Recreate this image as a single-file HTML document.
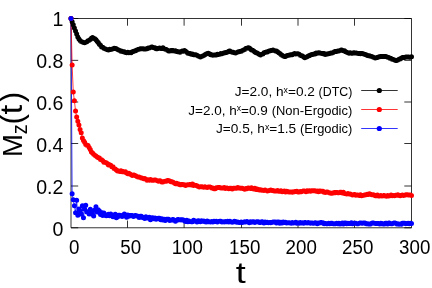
<!DOCTYPE html>
<html><head><meta charset="utf-8"><title>Mz(t)</title><style>html,body{margin:0;padding:0;background:#fff}svg{will-change:transform;transform:translateZ(0)}body{width:432px;height:288px;overflow:hidden}</style></head><body>
<svg width="432" height="288" viewBox="0 0 432 288" style="display:block;font-family:'Liberation Sans',sans-serif">
<rect width="432" height="288" fill="#fff"/>
<g stroke="#000" stroke-width="0.8" fill="none">
<path d="M71.0,18.5H411.5V227.77H71.0Z"/>
<path d="M127.50,227.77v-7.2M127.50,18.5v7.2"/>
<path d="M184.10,227.77v-7.2M184.10,18.5v7.2"/>
<path d="M241.50,227.77v-7.2M241.50,18.5v7.2"/>
<path d="M298.00,227.77v-7.2M298.00,18.5v7.2"/>
<path d="M354.50,227.77v-7.2M354.50,18.5v7.2"/>
<path d="M71.0,227.77h7.2M411.5,227.77h-7.2"/>
<path d="M71.0,186.00h7.2M411.5,186.00h-7.2"/>
<path d="M71.0,143.50h7.2M411.5,143.50h-7.2"/>
<path d="M71.0,102.00h7.2M411.5,102.00h-7.2"/>
<path d="M71.0,60.35h7.2M411.5,60.35h-7.2"/>
<path d="M71.0,18.50h7.2M411.5,18.50h-7.2"/>
</g>
<text transform="translate(63.4,236.00) scale(0.95,1)" font-size="20.6" text-anchor="end" fill="#000">0</text>
<text transform="translate(63.4,193.80) scale(0.95,1)" font-size="20.6" text-anchor="end" fill="#000">0.2</text>
<text transform="translate(63.4,151.80) scale(0.95,1)" font-size="20.6" text-anchor="end" fill="#000">0.4</text>
<text transform="translate(63.4,110.30) scale(0.95,1)" font-size="20.6" text-anchor="end" fill="#000">0.6</text>
<text transform="translate(63.4,67.60) scale(0.95,1)" font-size="20.6" text-anchor="end" fill="#000">0.8</text>
<text transform="translate(63.4,25.90) scale(0.95,1)" font-size="20.6" text-anchor="end" fill="#000">1</text>
<text transform="translate(74.20,254.2) scale(0.91,1)" font-size="20.6" text-anchor="middle" fill="#000">0</text>
<text transform="translate(130.70,254.2) scale(0.91,1)" font-size="20.6" text-anchor="middle" fill="#000">50</text>
<text transform="translate(187.30,254.2) scale(0.91,1)" font-size="20.6" text-anchor="middle" fill="#000">100</text>
<text transform="translate(244.70,254.2) scale(0.91,1)" font-size="20.6" text-anchor="middle" fill="#000">150</text>
<text transform="translate(301.20,254.2) scale(0.91,1)" font-size="20.6" text-anchor="middle" fill="#000">200</text>
<text transform="translate(357.70,254.2) scale(0.91,1)" font-size="20.6" text-anchor="middle" fill="#000">250</text>
<text transform="translate(414.70,254.2) scale(0.91,1)" font-size="20.6" text-anchor="middle" fill="#000">300</text>
<text transform="translate(240.8,283) scale(1.2,1)" font-size="30" text-anchor="middle" fill="#000">t</text>
<g transform="translate(21.5,0) rotate(-90)" fill="#000"><text x="-157" y="0" font-size="27.5">M</text><text transform="translate(-134.2,5.4) scale(0.9,1)" font-size="22">z</text><text x="-124.6" y="0" font-size="31">(</text><text transform="translate(-114.4,0) scale(1.1,1)" font-size="32">t</text><text x="-102.2" y="0" font-size="31">)</text></g>
<path d="M71.00,18.50 L72.14,21.64 L73.27,24.79 L74.41,27.91 L75.54,30.94 L76.67,33.97 L77.81,36.99 L78.94,38.92 L80.08,40.62 L81.22,41.53 L82.35,41.97 L83.48,42.41 L84.62,42.85 L85.75,42.28 L86.89,41.70 L88.03,40.77 L89.16,40.14 L90.30,39.39 L91.43,38.24 L92.56,37.45 L93.70,38.30 L94.84,38.80 L95.97,39.69 L97.11,41.31 L98.24,42.42 L99.38,44.15 L100.51,45.37 L101.64,46.96 L102.78,47.25 L103.91,48.13 L105.05,48.84 L106.19,49.15 L107.32,49.84 L108.45,50.01 L109.59,49.32 L110.72,49.54 L111.86,49.16 L113.00,48.70 L114.13,48.24 L115.27,48.56 L116.40,48.66 L117.53,49.38 L118.67,50.04 L119.81,50.47 L120.94,51.16 L122.08,51.25 L123.21,51.80 L124.34,51.82 L125.48,52.43 L126.62,52.65 L127.75,52.37 L128.88,52.66 L130.02,52.52 L131.16,52.64 L132.29,51.86 L133.43,51.59 L134.56,50.95 L135.69,50.67 L136.83,50.07 L137.97,49.54 L139.10,49.19 L140.24,48.68 L141.37,48.82 L142.50,48.71 L143.64,48.93 L144.78,48.92 L145.91,49.06 L147.05,48.75 L148.18,47.94 L149.31,47.98 L150.45,47.60 L151.58,47.10 L152.72,47.19 L153.86,47.74 L154.99,47.84 L156.12,48.73 L157.26,48.74 L158.39,48.40 L159.53,48.11 L160.67,48.53 L161.80,48.49 L162.94,47.72 L164.07,48.80 L165.20,49.15 L166.34,49.59 L167.47,50.32 L168.61,50.94 L169.75,51.01 L170.88,50.43 L172.01,50.83 L173.15,50.43 L174.28,50.90 L175.42,50.74 L176.56,51.41 L177.69,51.76 L178.82,51.71 L179.96,52.34 L181.09,51.56 L182.23,51.08 L183.37,51.14 L184.50,50.42 L185.63,51.34 L186.77,52.29 L187.91,53.23 L189.04,53.54 L190.18,53.60 L191.31,54.31 L192.44,54.06 L193.58,54.65 L194.72,54.74 L195.85,54.80 L196.99,55.37 L198.12,55.93 L199.25,56.53 L200.39,57.02 L201.53,56.49 L202.66,55.93 L203.79,55.54 L204.93,54.63 L206.06,53.97 L207.20,53.56 L208.34,53.37 L209.47,53.82 L210.60,54.70 L211.74,54.79 L212.88,55.22 L214.01,55.10 L215.15,55.12 L216.28,54.97 L217.41,54.31 L218.55,54.46 L219.69,54.21 L220.82,53.54 L221.96,53.64 L223.09,53.20 L224.22,53.03 L225.36,52.47 L226.50,52.40 L227.63,52.09 L228.76,51.27 L229.90,50.97 L231.03,51.74 L232.17,52.33 L233.31,52.23 L234.44,52.77 L235.57,52.90 L236.71,52.40 L237.84,52.11 L238.98,51.75 L240.12,51.48 L241.25,51.32 L242.38,50.50 L243.52,49.95 L244.66,49.62 L245.79,48.49 L246.93,48.26 L248.06,47.77 L249.19,48.01 L250.33,48.72 L251.47,49.90 L252.60,50.28 L253.74,51.02 L254.87,51.88 L256.00,52.74 L257.14,53.01 L258.27,53.84 L259.41,54.53 L260.54,54.97 L261.68,54.15 L262.81,53.90 L263.95,52.87 L265.09,52.44 L266.22,52.12 L267.36,51.97 L268.49,51.37 L269.62,50.91 L270.76,50.53 L271.89,50.52 L273.03,49.98 L274.16,50.42 L275.30,51.01 L276.44,51.12 L277.57,51.76 L278.71,52.69 L279.84,53.53 L280.98,54.61 L282.11,55.25 L283.25,56.06 L284.38,56.43 L285.51,56.46 L286.65,55.78 L287.78,55.51 L288.92,55.24 L290.06,54.93 L291.19,54.66 L292.32,54.75 L293.46,53.95 L294.60,53.58 L295.73,53.97 L296.87,53.66 L298.00,53.87 L299.13,54.13 L300.27,55.13 L301.40,55.76 L302.54,55.91 L303.68,56.92 L304.81,57.63 L305.94,57.24 L307.08,56.68 L308.22,56.07 L309.35,55.65 L310.49,55.12 L311.62,54.57 L312.75,54.56 L313.89,53.97 L315.02,53.96 L316.16,53.04 L317.29,53.27 L318.43,52.74 L319.56,53.01 L320.70,53.30 L321.84,53.60 L322.97,53.68 L324.11,53.59 L325.24,54.40 L326.38,54.23 L327.51,53.96 L328.64,53.86 L329.78,53.41 L330.92,52.97 L332.05,52.98 L333.19,52.40 L334.32,51.85 L335.45,51.46 L336.59,51.61 L337.73,51.05 L338.86,50.98 L340.00,50.40 L341.13,50.01 L342.26,50.14 L343.40,50.82 L344.54,50.86 L345.67,51.78 L346.81,52.35 L347.94,52.76 L349.07,53.23 L350.21,52.70 L351.35,53.17 L352.48,53.37 L353.62,52.84 L354.75,53.04 L355.88,53.08 L357.02,53.34 L358.15,53.38 L359.29,53.52 L360.43,53.84 L361.56,53.42 L362.69,53.76 L363.83,54.11 L364.96,54.41 L366.10,54.67 L367.24,55.61 L368.37,55.83 L369.50,55.64 L370.64,56.34 L371.77,56.62 L372.91,57.03 L374.05,57.46 L375.18,58.08 L376.31,57.81 L377.45,57.39 L378.58,57.01 L379.72,56.84 L380.86,56.43 L381.99,56.47 L383.12,56.48 L384.26,56.47 L385.39,56.48 L386.53,56.78 L387.67,57.14 L388.80,57.53 L389.94,58.13 L391.07,58.38 L392.20,59.20 L393.34,59.60 L394.48,59.99 L395.61,60.48 L396.75,60.39 L397.88,59.99 L399.01,59.24 L400.15,58.89 L401.29,58.18 L402.42,57.48 L403.56,57.46 L404.69,57.47 L405.82,56.94 L406.96,57.09 L408.10,56.99 L409.23,57.21 L410.37,57.15 L411.50,56.66" fill="none" stroke="#000" stroke-width="0.75" stroke-linejoin="round"/>
<path d="M71.00,18.50 L72.14,193.70 L73.27,199.80 L74.41,205.70 L75.54,212.70 L76.67,200.20 L77.81,215.30 L78.94,209.00 L80.08,211.00 L81.22,214.00 L82.35,205.70 L83.48,217.80 L84.62,209.00 L85.75,205.20 L86.89,212.00 L88.03,211.50 L89.16,214.00 L90.30,209.30 L91.43,212.00 L92.56,214.50 L93.70,216.00 L94.84,210.00 L95.97,206.80 L97.11,212.00 L98.24,209.80 L99.38,211.00 L100.51,214.50 L101.64,212.50 L102.78,215.50 L103.91,213.00 L105.05,215.00 L106.19,215.67 L107.32,214.83 L108.45,214.31 L109.59,215.80 L110.72,214.01 L111.86,215.08 L113.00,216.82 L114.13,215.11 L115.27,214.15 L116.40,217.77 L117.53,216.91 L118.67,215.27 L119.81,215.35 L120.94,216.12 L122.08,216.45 L123.21,214.90 L124.34,214.06 L125.48,214.99 L126.62,217.34 L127.75,214.90 L128.88,216.24 L130.02,215.38 L131.16,215.56 L132.29,215.56 L133.43,216.51 L134.56,215.83 L135.69,215.50 L136.83,215.92 L137.97,216.24 L139.10,217.38 L140.24,216.18 L141.37,216.21 L142.50,217.60 L143.64,217.60 L144.78,218.55 L145.91,216.85 L147.05,217.94 L148.18,218.04 L149.31,217.19 L150.45,219.74 L151.58,217.95 L152.72,217.76 L153.86,218.77 L154.99,218.09 L156.12,219.26 L157.26,218.68 L158.39,218.24 L159.53,218.16 L160.67,219.74 L161.80,218.82 L162.94,219.99 L164.07,219.37 L165.20,220.42 L166.34,219.20 L167.47,219.19 L168.61,219.32 L169.75,220.50 L170.88,220.22 L172.01,219.76 L173.15,219.38 L174.28,220.59 L175.42,221.21 L176.56,220.59 L177.69,219.61 L178.82,219.71 L179.96,219.86 L181.09,220.06 L182.23,219.87 L183.37,219.95 L184.50,221.03 L185.63,221.48 L186.77,220.35 L187.91,221.68 L189.04,220.89 L190.18,221.47 L191.31,221.69 L192.44,221.76 L193.58,220.36 L194.72,220.84 L195.85,221.36 L196.99,221.92 L198.12,220.63 L199.25,220.96 L200.39,221.83 L201.53,220.74 L202.66,221.17 L203.79,221.11 L204.93,221.64 L206.06,222.02 L207.20,220.94 L208.34,221.78 L209.47,221.79 L210.60,221.95 L211.74,221.57 L212.88,222.11 L214.01,221.33 L215.15,221.43 L216.28,221.19 L217.41,221.97 L218.55,221.58 L219.69,221.30 L220.82,221.19 L221.96,221.96 L223.09,221.82 L224.22,221.98 L225.36,221.57 L226.50,221.72 L227.63,221.29 L228.76,222.06 L229.90,221.16 L231.03,221.77 L232.17,222.17 L233.31,222.09 L234.44,221.34 L235.57,221.54 L236.71,222.36 L237.84,222.11 L238.98,222.44 L240.12,222.45 L241.25,221.92 L242.38,222.52 L243.52,222.32 L244.66,221.83 L245.79,221.89 L246.93,221.53 L248.06,221.97 L249.19,222.70 L250.33,221.63 L251.47,222.24 L252.60,221.68 L253.74,221.66 L254.87,222.40 L256.00,221.91 L257.14,221.68 L258.27,221.83 L259.41,222.47 L260.54,222.41 L261.68,221.71 L262.81,222.00 L263.95,222.94 L265.09,222.02 L266.22,222.46 L267.36,222.30 L268.49,222.76 L269.62,222.56 L270.76,222.80 L271.89,222.50 L273.03,222.09 L274.16,222.09 L275.30,221.99 L276.44,222.92 L277.57,222.06 L278.71,221.97 L279.84,223.14 L280.98,222.21 L282.11,223.08 L283.25,222.11 L284.38,222.59 L285.51,222.30 L286.65,223.06 L287.78,222.82 L288.92,222.86 L290.06,223.03 L291.19,223.18 L292.32,222.55 L293.46,222.88 L294.60,222.70 L295.73,222.31 L296.87,223.21 L298.00,222.93 L299.13,223.21 L300.27,222.49 L301.40,222.91 L302.54,222.83 L303.68,223.17 L304.81,222.39 L305.94,222.73 L307.08,222.92 L308.22,222.43 L309.35,223.03 L310.49,223.27 L311.62,222.90 L312.75,223.19 L313.89,223.16 L315.02,222.70 L316.16,222.88 L317.29,223.67 L318.43,222.89 L319.56,223.02 L320.70,222.62 L321.84,222.79 L322.97,222.75 L324.11,223.69 L325.24,223.46 L326.38,223.65 L327.51,223.80 L328.64,223.36 L329.78,223.76 L330.92,223.30 L332.05,223.18 L333.19,223.83 L334.32,223.79 L335.45,223.85 L336.59,223.30 L337.73,223.65 L338.86,223.22 L340.00,223.93 L341.13,223.85 L342.26,223.10 L343.40,223.88 L344.54,222.98 L345.67,222.88 L346.81,223.64 L347.94,223.13 L349.07,223.41 L350.21,223.56 L351.35,222.85 L352.48,223.70 L353.62,223.14 L354.75,223.34 L355.88,223.24 L357.02,223.72 L358.15,223.74 L359.29,223.19 L360.43,222.98 L361.56,223.22 L362.69,223.36 L363.83,222.97 L364.96,223.06 L366.10,223.80 L367.24,223.73 L368.37,224.07 L369.50,224.08 L370.64,223.96 L371.77,223.37 L372.91,223.12 L374.05,223.31 L375.18,223.49 L376.31,223.58 L377.45,223.60 L378.58,223.39 L379.72,223.99 L380.86,223.31 L381.99,223.53 L383.12,224.05 L384.26,223.96 L385.39,223.36 L386.53,223.30 L387.67,223.98 L388.80,223.03 L389.94,223.18 L391.07,223.67 L392.20,223.68 L393.34,223.24 L394.48,223.11 L395.61,223.30 L396.75,223.99 L397.88,223.63 L399.01,224.25 L400.15,224.03 L401.29,224.27 L402.42,223.14 L403.56,223.33 L404.69,223.13 L405.82,223.64 L406.96,223.53 L408.10,223.19 L409.23,223.79 L410.37,223.26 L411.50,223.52" fill="none" stroke="#00f" stroke-width="0.75" stroke-linejoin="round"/>
<path d="M71.00,18.50 L72.14,65.03 L73.27,91.99 L74.41,100.75 L75.54,110.92 L76.67,117.06 L77.81,121.33 L78.94,125.02 L80.08,129.53 L81.22,132.77 L82.35,138.05 L83.48,140.39 L84.62,142.28 L85.75,144.44 L86.89,145.26 L88.03,145.57 L89.16,147.53 L90.30,149.39 L91.43,152.03 L92.56,152.92 L93.70,154.26 L94.84,155.22 L95.97,156.08 L97.11,157.06 L98.24,157.77 L99.38,158.12 L100.51,159.61 L101.64,159.71 L102.78,160.67 L103.91,162.22 L105.05,162.14 L106.19,162.87 L107.32,163.47 L108.45,164.99 L109.59,164.74 L110.72,165.15 L111.86,166.74 L113.00,166.69 L114.13,168.38 L115.27,168.99 L116.40,170.00 L117.53,170.96 L118.67,170.95 L119.81,171.40 L120.94,170.66 L122.08,171.72 L123.21,171.60 L124.34,172.05 L125.48,171.82 L126.62,173.09 L127.75,173.81 L128.88,173.26 L130.02,174.08 L131.16,174.76 L132.29,175.39 L133.43,175.01 L134.56,175.25 L135.69,175.65 L136.83,176.42 L137.97,177.04 L139.10,177.06 L140.24,177.48 L141.37,177.97 L142.50,178.37 L143.64,178.78 L144.78,178.60 L145.91,179.33 L147.05,180.13 L148.18,179.68 L149.31,180.30 L150.45,179.59 L151.58,180.23 L152.72,180.31 L153.86,180.21 L154.99,180.02 L156.12,180.16 L157.26,180.66 L158.39,181.29 L159.53,180.71 L160.67,180.96 L161.80,182.04 L162.94,182.06 L164.07,181.40 L165.20,181.13 L166.34,181.28 L167.47,180.46 L168.61,180.67 L169.75,180.97 L170.88,181.81 L172.01,181.87 L173.15,182.15 L174.28,183.07 L175.42,183.77 L176.56,183.25 L177.69,184.02 L178.82,183.93 L179.96,184.73 L181.09,184.68 L182.23,184.56 L183.37,184.77 L184.50,184.81 L185.63,185.39 L186.77,185.12 L187.91,184.72 L189.04,184.79 L190.18,184.60 L191.31,184.99 L192.44,184.08 L193.58,185.41 L194.72,185.14 L195.85,185.62 L196.99,185.81 L198.12,186.59 L199.25,186.91 L200.39,186.83 L201.53,186.78 L202.66,187.10 L203.79,187.30 L204.93,186.79 L206.06,187.23 L207.20,187.54 L208.34,187.10 L209.47,187.00 L210.60,187.20 L211.74,187.97 L212.88,188.11 L214.01,188.64 L215.15,188.66 L216.28,187.81 L217.41,187.64 L218.55,187.61 L219.69,187.41 L220.82,187.91 L221.96,187.98 L223.09,188.08 L224.22,187.49 L225.36,188.41 L226.50,187.94 L227.63,188.26 L228.76,188.82 L229.90,188.24 L231.03,188.16 L232.17,188.93 L233.31,188.17 L234.44,188.13 L235.57,188.29 L236.71,188.29 L237.84,187.44 L238.98,187.95 L240.12,188.18 L241.25,188.36 L242.38,188.14 L243.52,188.70 L244.66,189.26 L245.79,188.57 L246.93,188.67 L248.06,188.09 L249.19,188.20 L250.33,188.59 L251.47,187.85 L252.60,188.74 L253.74,189.01 L254.87,188.29 L256.00,189.55 L257.14,189.12 L258.27,189.85 L259.41,190.08 L260.54,189.69 L261.68,190.22 L262.81,190.27 L263.95,190.53 L265.09,189.96 L266.22,190.62 L267.36,190.94 L268.49,190.65 L269.62,190.54 L270.76,190.09 L271.89,190.60 L273.03,190.49 L274.16,190.98 L275.30,190.99 L276.44,190.91 L277.57,190.50 L278.71,191.13 L279.84,191.20 L280.98,190.74 L282.11,191.68 L283.25,191.48 L284.38,190.93 L285.51,191.99 L286.65,191.13 L287.78,191.44 L288.92,191.99 L290.06,191.93 L291.19,191.97 L292.32,192.16 L293.46,191.90 L294.60,191.66 L295.73,191.43 L296.87,191.24 L298.00,191.95 L299.13,191.94 L300.27,191.62 L301.40,191.79 L302.54,191.27 L303.68,191.10 L304.81,191.18 L305.94,191.70 L307.08,190.64 L308.22,191.13 L309.35,190.76 L310.49,191.32 L311.62,190.76 L312.75,190.67 L313.89,190.70 L315.02,190.80 L316.16,191.23 L317.29,190.89 L318.43,191.63 L319.56,190.91 L320.70,191.25 L321.84,191.20 L322.97,191.37 L324.11,192.33 L325.24,192.42 L326.38,191.92 L327.51,192.08 L328.64,192.51 L329.78,193.06 L330.92,193.30 L332.05,193.27 L333.19,193.03 L334.32,192.43 L335.45,192.68 L336.59,192.38 L337.73,192.72 L338.86,192.71 L340.00,192.22 L341.13,192.22 L342.26,192.97 L343.40,192.27 L344.54,193.39 L345.67,193.70 L346.81,193.97 L347.94,193.49 L349.07,193.89 L350.21,194.12 L351.35,194.38 L352.48,194.94 L353.62,194.74 L354.75,194.42 L355.88,195.23 L357.02,194.92 L358.15,195.20 L359.29,195.50 L360.43,194.77 L361.56,195.82 L362.69,195.52 L363.83,195.16 L364.96,195.03 L366.10,194.80 L367.24,194.31 L368.37,194.55 L369.50,193.80 L370.64,194.32 L371.77,194.70 L372.91,194.66 L374.05,195.00 L375.18,195.68 L376.31,195.80 L377.45,195.09 L378.58,196.08 L379.72,196.08 L380.86,195.60 L381.99,196.04 L383.12,195.79 L384.26,195.51 L385.39,195.97 L386.53,196.35 L387.67,195.52 L388.80,196.09 L389.94,195.78 L391.07,195.01 L392.20,195.79 L393.34,195.38 L394.48,195.68 L395.61,195.33 L396.75,195.30 L397.88,194.86 L399.01,195.45 L400.15,195.64 L401.29,195.59 L402.42,195.12 L403.56,195.54 L404.69,195.26 L405.82,194.84 L406.96,194.80 L408.10,194.88 L409.23,195.06 L410.37,195.06 L411.50,195.50" fill="none" stroke="#f00" stroke-width="0.75" stroke-linejoin="round"/>
<path d="M71.00,18.50h0M72.14,21.64h0M73.27,24.79h0M74.41,27.91h0M75.54,30.94h0M76.67,33.97h0M77.81,36.99h0M78.94,38.92h0M80.08,40.62h0M81.22,41.53h0M82.35,41.97h0M83.48,42.41h0M84.62,42.85h0M85.75,42.28h0M86.89,41.70h0M88.03,40.77h0M89.16,40.14h0M90.30,39.39h0M91.43,38.24h0M92.56,37.45h0M93.70,38.30h0M94.84,38.80h0M95.97,39.69h0M97.11,41.31h0M98.24,42.42h0M99.38,44.15h0M100.51,45.37h0M101.64,46.96h0M102.78,47.25h0M103.91,48.13h0M105.05,48.84h0M106.19,49.15h0M107.32,49.84h0M108.45,50.01h0M109.59,49.32h0M110.72,49.54h0M111.86,49.16h0M113.00,48.70h0M114.13,48.24h0M115.27,48.56h0M116.40,48.66h0M117.53,49.38h0M118.67,50.04h0M119.81,50.47h0M120.94,51.16h0M122.08,51.25h0M123.21,51.80h0M124.34,51.82h0M125.48,52.43h0M126.62,52.65h0M127.75,52.37h0M128.88,52.66h0M130.02,52.52h0M131.16,52.64h0M132.29,51.86h0M133.43,51.59h0M134.56,50.95h0M135.69,50.67h0M136.83,50.07h0M137.97,49.54h0M139.10,49.19h0M140.24,48.68h0M141.37,48.82h0M142.50,48.71h0M143.64,48.93h0M144.78,48.92h0M145.91,49.06h0M147.05,48.75h0M148.18,47.94h0M149.31,47.98h0M150.45,47.60h0M151.58,47.10h0M152.72,47.19h0M153.86,47.74h0M154.99,47.84h0M156.12,48.73h0M157.26,48.74h0M158.39,48.40h0M159.53,48.11h0M160.67,48.53h0M161.80,48.49h0M162.94,47.72h0M164.07,48.80h0M165.20,49.15h0M166.34,49.59h0M167.47,50.32h0M168.61,50.94h0M169.75,51.01h0M170.88,50.43h0M172.01,50.83h0M173.15,50.43h0M174.28,50.90h0M175.42,50.74h0M176.56,51.41h0M177.69,51.76h0M178.82,51.71h0M179.96,52.34h0M181.09,51.56h0M182.23,51.08h0M183.37,51.14h0M184.50,50.42h0M185.63,51.34h0M186.77,52.29h0M187.91,53.23h0M189.04,53.54h0M190.18,53.60h0M191.31,54.31h0M192.44,54.06h0M193.58,54.65h0M194.72,54.74h0M195.85,54.80h0M196.99,55.37h0M198.12,55.93h0M199.25,56.53h0M200.39,57.02h0M201.53,56.49h0M202.66,55.93h0M203.79,55.54h0M204.93,54.63h0M206.06,53.97h0M207.20,53.56h0M208.34,53.37h0M209.47,53.82h0M210.60,54.70h0M211.74,54.79h0M212.88,55.22h0M214.01,55.10h0M215.15,55.12h0M216.28,54.97h0M217.41,54.31h0M218.55,54.46h0M219.69,54.21h0M220.82,53.54h0M221.96,53.64h0M223.09,53.20h0M224.22,53.03h0M225.36,52.47h0M226.50,52.40h0M227.63,52.09h0M228.76,51.27h0M229.90,50.97h0M231.03,51.74h0M232.17,52.33h0M233.31,52.23h0M234.44,52.77h0M235.57,52.90h0M236.71,52.40h0M237.84,52.11h0M238.98,51.75h0M240.12,51.48h0M241.25,51.32h0M242.38,50.50h0M243.52,49.95h0M244.66,49.62h0M245.79,48.49h0M246.93,48.26h0M248.06,47.77h0M249.19,48.01h0M250.33,48.72h0M251.47,49.90h0M252.60,50.28h0M253.74,51.02h0M254.87,51.88h0M256.00,52.74h0M257.14,53.01h0M258.27,53.84h0M259.41,54.53h0M260.54,54.97h0M261.68,54.15h0M262.81,53.90h0M263.95,52.87h0M265.09,52.44h0M266.22,52.12h0M267.36,51.97h0M268.49,51.37h0M269.62,50.91h0M270.76,50.53h0M271.89,50.52h0M273.03,49.98h0M274.16,50.42h0M275.30,51.01h0M276.44,51.12h0M277.57,51.76h0M278.71,52.69h0M279.84,53.53h0M280.98,54.61h0M282.11,55.25h0M283.25,56.06h0M284.38,56.43h0M285.51,56.46h0M286.65,55.78h0M287.78,55.51h0M288.92,55.24h0M290.06,54.93h0M291.19,54.66h0M292.32,54.75h0M293.46,53.95h0M294.60,53.58h0M295.73,53.97h0M296.87,53.66h0M298.00,53.87h0M299.13,54.13h0M300.27,55.13h0M301.40,55.76h0M302.54,55.91h0M303.68,56.92h0M304.81,57.63h0M305.94,57.24h0M307.08,56.68h0M308.22,56.07h0M309.35,55.65h0M310.49,55.12h0M311.62,54.57h0M312.75,54.56h0M313.89,53.97h0M315.02,53.96h0M316.16,53.04h0M317.29,53.27h0M318.43,52.74h0M319.56,53.01h0M320.70,53.30h0M321.84,53.60h0M322.97,53.68h0M324.11,53.59h0M325.24,54.40h0M326.38,54.23h0M327.51,53.96h0M328.64,53.86h0M329.78,53.41h0M330.92,52.97h0M332.05,52.98h0M333.19,52.40h0M334.32,51.85h0M335.45,51.46h0M336.59,51.61h0M337.73,51.05h0M338.86,50.98h0M340.00,50.40h0M341.13,50.01h0M342.26,50.14h0M343.40,50.82h0M344.54,50.86h0M345.67,51.78h0M346.81,52.35h0M347.94,52.76h0M349.07,53.23h0M350.21,52.70h0M351.35,53.17h0M352.48,53.37h0M353.62,52.84h0M354.75,53.04h0M355.88,53.08h0M357.02,53.34h0M358.15,53.38h0M359.29,53.52h0M360.43,53.84h0M361.56,53.42h0M362.69,53.76h0M363.83,54.11h0M364.96,54.41h0M366.10,54.67h0M367.24,55.61h0M368.37,55.83h0M369.50,55.64h0M370.64,56.34h0M371.77,56.62h0M372.91,57.03h0M374.05,57.46h0M375.18,58.08h0M376.31,57.81h0M377.45,57.39h0M378.58,57.01h0M379.72,56.84h0M380.86,56.43h0M381.99,56.47h0M383.12,56.48h0M384.26,56.47h0M385.39,56.48h0M386.53,56.78h0M387.67,57.14h0M388.80,57.53h0M389.94,58.13h0M391.07,58.38h0M392.20,59.20h0M393.34,59.60h0M394.48,59.99h0M395.61,60.48h0M396.75,60.39h0M397.88,59.99h0M399.01,59.24h0M400.15,58.89h0M401.29,58.18h0M402.42,57.48h0M403.56,57.46h0M404.69,57.47h0M405.82,56.94h0M406.96,57.09h0M408.10,56.99h0M409.23,57.21h0M410.37,57.15h0M411.50,56.66h0" fill="none" stroke="#000" stroke-width="5.0" stroke-linecap="round"/>
<path d="M71.00,18.50h0M72.14,65.03h0M73.27,91.99h0M74.41,100.75h0M75.54,110.92h0M76.67,117.06h0M77.81,121.33h0M78.94,125.02h0M80.08,129.53h0M81.22,132.77h0M82.35,138.05h0M83.48,140.39h0M84.62,142.28h0M85.75,144.44h0M86.89,145.26h0M88.03,145.57h0M89.16,147.53h0M90.30,149.39h0M91.43,152.03h0M92.56,152.92h0M93.70,154.26h0M94.84,155.22h0M95.97,156.08h0M97.11,157.06h0M98.24,157.77h0M99.38,158.12h0M100.51,159.61h0M101.64,159.71h0M102.78,160.67h0M103.91,162.22h0M105.05,162.14h0M106.19,162.87h0M107.32,163.47h0M108.45,164.99h0M109.59,164.74h0M110.72,165.15h0M111.86,166.74h0M113.00,166.69h0M114.13,168.38h0M115.27,168.99h0M116.40,170.00h0M117.53,170.96h0M118.67,170.95h0M119.81,171.40h0M120.94,170.66h0M122.08,171.72h0M123.21,171.60h0M124.34,172.05h0M125.48,171.82h0M126.62,173.09h0M127.75,173.81h0M128.88,173.26h0M130.02,174.08h0M131.16,174.76h0M132.29,175.39h0M133.43,175.01h0M134.56,175.25h0M135.69,175.65h0M136.83,176.42h0M137.97,177.04h0M139.10,177.06h0M140.24,177.48h0M141.37,177.97h0M142.50,178.37h0M143.64,178.78h0M144.78,178.60h0M145.91,179.33h0M147.05,180.13h0M148.18,179.68h0M149.31,180.30h0M150.45,179.59h0M151.58,180.23h0M152.72,180.31h0M153.86,180.21h0M154.99,180.02h0M156.12,180.16h0M157.26,180.66h0M158.39,181.29h0M159.53,180.71h0M160.67,180.96h0M161.80,182.04h0M162.94,182.06h0M164.07,181.40h0M165.20,181.13h0M166.34,181.28h0M167.47,180.46h0M168.61,180.67h0M169.75,180.97h0M170.88,181.81h0M172.01,181.87h0M173.15,182.15h0M174.28,183.07h0M175.42,183.77h0M176.56,183.25h0M177.69,184.02h0M178.82,183.93h0M179.96,184.73h0M181.09,184.68h0M182.23,184.56h0M183.37,184.77h0M184.50,184.81h0M185.63,185.39h0M186.77,185.12h0M187.91,184.72h0M189.04,184.79h0M190.18,184.60h0M191.31,184.99h0M192.44,184.08h0M193.58,185.41h0M194.72,185.14h0M195.85,185.62h0M196.99,185.81h0M198.12,186.59h0M199.25,186.91h0M200.39,186.83h0M201.53,186.78h0M202.66,187.10h0M203.79,187.30h0M204.93,186.79h0M206.06,187.23h0M207.20,187.54h0M208.34,187.10h0M209.47,187.00h0M210.60,187.20h0M211.74,187.97h0M212.88,188.11h0M214.01,188.64h0M215.15,188.66h0M216.28,187.81h0M217.41,187.64h0M218.55,187.61h0M219.69,187.41h0M220.82,187.91h0M221.96,187.98h0M223.09,188.08h0M224.22,187.49h0M225.36,188.41h0M226.50,187.94h0M227.63,188.26h0M228.76,188.82h0M229.90,188.24h0M231.03,188.16h0M232.17,188.93h0M233.31,188.17h0M234.44,188.13h0M235.57,188.29h0M236.71,188.29h0M237.84,187.44h0M238.98,187.95h0M240.12,188.18h0M241.25,188.36h0M242.38,188.14h0M243.52,188.70h0M244.66,189.26h0M245.79,188.57h0M246.93,188.67h0M248.06,188.09h0M249.19,188.20h0M250.33,188.59h0M251.47,187.85h0M252.60,188.74h0M253.74,189.01h0M254.87,188.29h0M256.00,189.55h0M257.14,189.12h0M258.27,189.85h0M259.41,190.08h0M260.54,189.69h0M261.68,190.22h0M262.81,190.27h0M263.95,190.53h0M265.09,189.96h0M266.22,190.62h0M267.36,190.94h0M268.49,190.65h0M269.62,190.54h0M270.76,190.09h0M271.89,190.60h0M273.03,190.49h0M274.16,190.98h0M275.30,190.99h0M276.44,190.91h0M277.57,190.50h0M278.71,191.13h0M279.84,191.20h0M280.98,190.74h0M282.11,191.68h0M283.25,191.48h0M284.38,190.93h0M285.51,191.99h0M286.65,191.13h0M287.78,191.44h0M288.92,191.99h0M290.06,191.93h0M291.19,191.97h0M292.32,192.16h0M293.46,191.90h0M294.60,191.66h0M295.73,191.43h0M296.87,191.24h0M298.00,191.95h0M299.13,191.94h0M300.27,191.62h0M301.40,191.79h0M302.54,191.27h0M303.68,191.10h0M304.81,191.18h0M305.94,191.70h0M307.08,190.64h0M308.22,191.13h0M309.35,190.76h0M310.49,191.32h0M311.62,190.76h0M312.75,190.67h0M313.89,190.70h0M315.02,190.80h0M316.16,191.23h0M317.29,190.89h0M318.43,191.63h0M319.56,190.91h0M320.70,191.25h0M321.84,191.20h0M322.97,191.37h0M324.11,192.33h0M325.24,192.42h0M326.38,191.92h0M327.51,192.08h0M328.64,192.51h0M329.78,193.06h0M330.92,193.30h0M332.05,193.27h0M333.19,193.03h0M334.32,192.43h0M335.45,192.68h0M336.59,192.38h0M337.73,192.72h0M338.86,192.71h0M340.00,192.22h0M341.13,192.22h0M342.26,192.97h0M343.40,192.27h0M344.54,193.39h0M345.67,193.70h0M346.81,193.97h0M347.94,193.49h0M349.07,193.89h0M350.21,194.12h0M351.35,194.38h0M352.48,194.94h0M353.62,194.74h0M354.75,194.42h0M355.88,195.23h0M357.02,194.92h0M358.15,195.20h0M359.29,195.50h0M360.43,194.77h0M361.56,195.82h0M362.69,195.52h0M363.83,195.16h0M364.96,195.03h0M366.10,194.80h0M367.24,194.31h0M368.37,194.55h0M369.50,193.80h0M370.64,194.32h0M371.77,194.70h0M372.91,194.66h0M374.05,195.00h0M375.18,195.68h0M376.31,195.80h0M377.45,195.09h0M378.58,196.08h0M379.72,196.08h0M380.86,195.60h0M381.99,196.04h0M383.12,195.79h0M384.26,195.51h0M385.39,195.97h0M386.53,196.35h0M387.67,195.52h0M388.80,196.09h0M389.94,195.78h0M391.07,195.01h0M392.20,195.79h0M393.34,195.38h0M394.48,195.68h0M395.61,195.33h0M396.75,195.30h0M397.88,194.86h0M399.01,195.45h0M400.15,195.64h0M401.29,195.59h0M402.42,195.12h0M403.56,195.54h0M404.69,195.26h0M405.82,194.84h0M406.96,194.80h0M408.10,194.88h0M409.23,195.06h0M410.37,195.06h0M411.50,195.50h0" fill="none" stroke="#f00" stroke-width="5.0" stroke-linecap="round"/>
<path d="M71.00,18.50h0M72.14,193.70h0M73.27,199.80h0M74.41,205.70h0M75.54,212.70h0M76.67,200.20h0M77.81,215.30h0M78.94,209.00h0M80.08,211.00h0M81.22,214.00h0M82.35,205.70h0M83.48,217.80h0M84.62,209.00h0M85.75,205.20h0M86.89,212.00h0M88.03,211.50h0M89.16,214.00h0M90.30,209.30h0M91.43,212.00h0M92.56,214.50h0M93.70,216.00h0M94.84,210.00h0M95.97,206.80h0M97.11,212.00h0M98.24,209.80h0M99.38,211.00h0M100.51,214.50h0M101.64,212.50h0M102.78,215.50h0M103.91,213.00h0M105.05,215.00h0M106.19,215.67h0M107.32,214.83h0M108.45,214.31h0M109.59,215.80h0M110.72,214.01h0M111.86,215.08h0M113.00,216.82h0M114.13,215.11h0M115.27,214.15h0M116.40,217.77h0M117.53,216.91h0M118.67,215.27h0M119.81,215.35h0M120.94,216.12h0M122.08,216.45h0M123.21,214.90h0M124.34,214.06h0M125.48,214.99h0M126.62,217.34h0M127.75,214.90h0M128.88,216.24h0M130.02,215.38h0M131.16,215.56h0M132.29,215.56h0M133.43,216.51h0M134.56,215.83h0M135.69,215.50h0M136.83,215.92h0M137.97,216.24h0M139.10,217.38h0M140.24,216.18h0M141.37,216.21h0M142.50,217.60h0M143.64,217.60h0M144.78,218.55h0M145.91,216.85h0M147.05,217.94h0M148.18,218.04h0M149.31,217.19h0M150.45,219.74h0M151.58,217.95h0M152.72,217.76h0M153.86,218.77h0M154.99,218.09h0M156.12,219.26h0M157.26,218.68h0M158.39,218.24h0M159.53,218.16h0M160.67,219.74h0M161.80,218.82h0M162.94,219.99h0M164.07,219.37h0M165.20,220.42h0M166.34,219.20h0M167.47,219.19h0M168.61,219.32h0M169.75,220.50h0M170.88,220.22h0M172.01,219.76h0M173.15,219.38h0M174.28,220.59h0M175.42,221.21h0M176.56,220.59h0M177.69,219.61h0M178.82,219.71h0M179.96,219.86h0M181.09,220.06h0M182.23,219.87h0M183.37,219.95h0M184.50,221.03h0M185.63,221.48h0M186.77,220.35h0M187.91,221.68h0M189.04,220.89h0M190.18,221.47h0M191.31,221.69h0M192.44,221.76h0M193.58,220.36h0M194.72,220.84h0M195.85,221.36h0M196.99,221.92h0M198.12,220.63h0M199.25,220.96h0M200.39,221.83h0M201.53,220.74h0M202.66,221.17h0M203.79,221.11h0M204.93,221.64h0M206.06,222.02h0M207.20,220.94h0M208.34,221.78h0M209.47,221.79h0M210.60,221.95h0M211.74,221.57h0M212.88,222.11h0M214.01,221.33h0M215.15,221.43h0M216.28,221.19h0M217.41,221.97h0M218.55,221.58h0M219.69,221.30h0M220.82,221.19h0M221.96,221.96h0M223.09,221.82h0M224.22,221.98h0M225.36,221.57h0M226.50,221.72h0M227.63,221.29h0M228.76,222.06h0M229.90,221.16h0M231.03,221.77h0M232.17,222.17h0M233.31,222.09h0M234.44,221.34h0M235.57,221.54h0M236.71,222.36h0M237.84,222.11h0M238.98,222.44h0M240.12,222.45h0M241.25,221.92h0M242.38,222.52h0M243.52,222.32h0M244.66,221.83h0M245.79,221.89h0M246.93,221.53h0M248.06,221.97h0M249.19,222.70h0M250.33,221.63h0M251.47,222.24h0M252.60,221.68h0M253.74,221.66h0M254.87,222.40h0M256.00,221.91h0M257.14,221.68h0M258.27,221.83h0M259.41,222.47h0M260.54,222.41h0M261.68,221.71h0M262.81,222.00h0M263.95,222.94h0M265.09,222.02h0M266.22,222.46h0M267.36,222.30h0M268.49,222.76h0M269.62,222.56h0M270.76,222.80h0M271.89,222.50h0M273.03,222.09h0M274.16,222.09h0M275.30,221.99h0M276.44,222.92h0M277.57,222.06h0M278.71,221.97h0M279.84,223.14h0M280.98,222.21h0M282.11,223.08h0M283.25,222.11h0M284.38,222.59h0M285.51,222.30h0M286.65,223.06h0M287.78,222.82h0M288.92,222.86h0M290.06,223.03h0M291.19,223.18h0M292.32,222.55h0M293.46,222.88h0M294.60,222.70h0M295.73,222.31h0M296.87,223.21h0M298.00,222.93h0M299.13,223.21h0M300.27,222.49h0M301.40,222.91h0M302.54,222.83h0M303.68,223.17h0M304.81,222.39h0M305.94,222.73h0M307.08,222.92h0M308.22,222.43h0M309.35,223.03h0M310.49,223.27h0M311.62,222.90h0M312.75,223.19h0M313.89,223.16h0M315.02,222.70h0M316.16,222.88h0M317.29,223.67h0M318.43,222.89h0M319.56,223.02h0M320.70,222.62h0M321.84,222.79h0M322.97,222.75h0M324.11,223.69h0M325.24,223.46h0M326.38,223.65h0M327.51,223.80h0M328.64,223.36h0M329.78,223.76h0M330.92,223.30h0M332.05,223.18h0M333.19,223.83h0M334.32,223.79h0M335.45,223.85h0M336.59,223.30h0M337.73,223.65h0M338.86,223.22h0M340.00,223.93h0M341.13,223.85h0M342.26,223.10h0M343.40,223.88h0M344.54,222.98h0M345.67,222.88h0M346.81,223.64h0M347.94,223.13h0M349.07,223.41h0M350.21,223.56h0M351.35,222.85h0M352.48,223.70h0M353.62,223.14h0M354.75,223.34h0M355.88,223.24h0M357.02,223.72h0M358.15,223.74h0M359.29,223.19h0M360.43,222.98h0M361.56,223.22h0M362.69,223.36h0M363.83,222.97h0M364.96,223.06h0M366.10,223.80h0M367.24,223.73h0M368.37,224.07h0M369.50,224.08h0M370.64,223.96h0M371.77,223.37h0M372.91,223.12h0M374.05,223.31h0M375.18,223.49h0M376.31,223.58h0M377.45,223.60h0M378.58,223.39h0M379.72,223.99h0M380.86,223.31h0M381.99,223.53h0M383.12,224.05h0M384.26,223.96h0M385.39,223.36h0M386.53,223.30h0M387.67,223.98h0M388.80,223.03h0M389.94,223.18h0M391.07,223.67h0M392.20,223.68h0M393.34,223.24h0M394.48,223.11h0M395.61,223.30h0M396.75,223.99h0M397.88,223.63h0M399.01,224.25h0M400.15,224.03h0M401.29,224.27h0M402.42,223.14h0M403.56,223.33h0M404.69,223.13h0M405.82,223.64h0M406.96,223.53h0M408.10,223.19h0M409.23,223.79h0M410.37,223.26h0M411.50,223.52h0" fill="none" stroke="#00f" stroke-width="5.0" stroke-linecap="round"/>
<text x="234.7" y="96" font-size="13.33" textLength="80.2" lengthAdjust="spacingAndGlyphs" fill="#000">J=2.0, h<tspan font-size="8.5" dy="-3.4">x</tspan><tspan dy="3.4">=0.2</tspan></text>
<text x="318.6" y="96" font-size="13.33" textLength="33.7" lengthAdjust="spacingAndGlyphs" fill="#000">(DTC)</text>
<path d="M361.2,90.5H397.7" stroke="#000" stroke-width="0.8"/><circle cx="379.3" cy="90.5" r="2.6" fill="#000"/>
<text x="188.3" y="114.6" font-size="13.33" textLength="79.4" lengthAdjust="spacingAndGlyphs" fill="#000">J=2.0, h<tspan font-size="8.5" dy="-3.4">x</tspan><tspan dy="3.4">=0.9</tspan></text>
<text x="271.7" y="114.6" font-size="13.33" textLength="80.6" lengthAdjust="spacingAndGlyphs" fill="#000">(Non-Ergodic)</text>
<path d="M361.2,109.5H397.7" stroke="#f00" stroke-width="0.8"/><circle cx="379.3" cy="109.5" r="2.6" fill="#f00"/>
<text x="216.0" y="133.2" font-size="13.33" textLength="80.2" lengthAdjust="spacingAndGlyphs" fill="#000">J=0.5, h<tspan font-size="8.5" dy="-3.4">x</tspan><tspan dy="3.4">=1.5</tspan></text>
<text x="300.0" y="133.2" font-size="13.33" textLength="52.3" lengthAdjust="spacingAndGlyphs" fill="#000">(Ergodic)</text>
<path d="M361.2,128.5H397.7" stroke="#00f" stroke-width="0.8"/><circle cx="379.3" cy="128.5" r="2.6" fill="#00f"/>
</svg>
</body></html>
